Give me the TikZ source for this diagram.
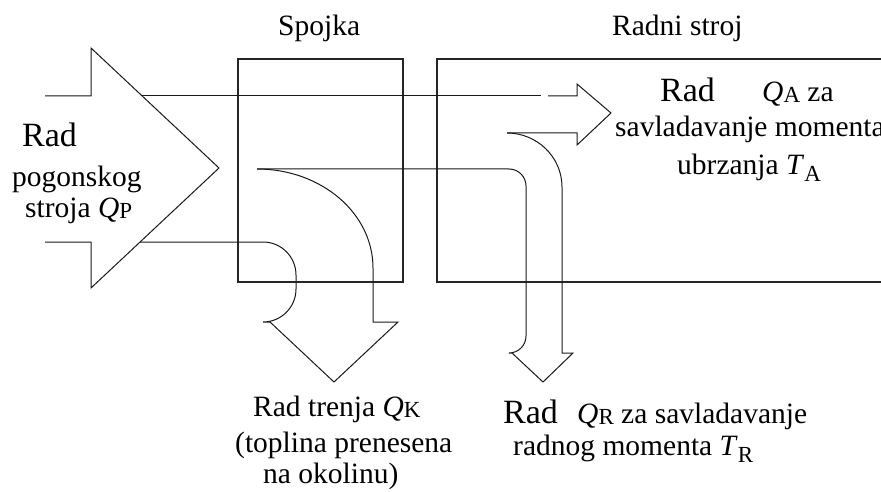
\documentclass[tikz,border=0pt]{standalone}
\usepackage{fontspec}
\setmainfont{Liberation Serif}
\usepackage{tikz}
\usetikzlibrary{positioning}
\newcommand{\subsz}{\fontsize{23}{23}\selectfont}
\newcommand{\Qsub}[1]{\textit{Q}\raisebox{-1pt}{\subsz #1}}
\newcommand{\Tsub}[1]{\textit{T}\raisebox{-7pt}{\subsz #1}}
\tikzset{
  machine/.style={draw, line width=1.8pt, black!85},
  flow/.style={line width=1pt, black!90},
  txt/.style={anchor=base west, inner sep=0pt, font=\fontsize{29.5}{36}\selectfont},
  big/.style={txt, font=\fontsize{34}{40}\selectfont},
}

\begin{document}
\begin{tikzpicture}[x=1pt, y=-1pt]
  \useasboundingbox (0,0) rectangle (881,492);
  \clip (0,0) rectangle (881,492);

  % Spojka and Radni stroj
  \draw[machine] (238,59) rectangle (403,282);
  \draw[machine] (437,59) rectangle (900,282);
  \node[txt] (spojka) at (278,36) {Spojka};
  \node[txt] (radni) at (612,36) {Radni stroj};

  % input arrow
  \draw[flow] (45,96) -- (91,96) -- (91,48) -- (219,168) -- (91,288) -- (91,242) -- (45,242);
  \node[big] (radP) at (22,147) {Rad};
  \node[txt] (pogP) at (12,186) {pogonskog};
  \node[txt] (strP) at (25,217) {stroja \Qsub{P}};

  % Q_A
  \draw[flow] (142,96) -- (541,96);
  \draw[flow] (548,96) -- (577,96) -- (577,84) -- (611,113) -- (577,145) -- (577,133) -- (507,133);
  \node[big] (radA) at (660,102) {Rad};
  \node[txt] (qA) at (762,102) {\Qsub{A} za};
  \node[txt] (savA) at (615,137) {savladavanje momenta};
  \node[txt] (ubrA) at (677,175) {ubrzanja \Tsub{A}};

  % Q_R
  \draw[flow, rounded corners=17pt] (257,169) -- (526,169) -- (526,353) [sharp corners]
    -- (512,353) -- (543,382) -- (573,353) -- (562,353) -- (562,187)
    .. controls (562,157) and (537,133) .. (507,133);
  \node[big] (radR) at (503,423) {Rad};
  \node[txt] (qR) at (577,423) {\Qsub{R} za savladavanje};
  \node[txt] (momR) at (513,455) {radnog momenta \Tsub{R}};

  % Q_K
  \draw[flow] (140,242) [rounded corners=33pt] -- (296,242) -- (296,322) [sharp corners]
    -- (270,322) -- (334,382) -- (398,322) -- (373,322) -- (373,268)
    .. controls (373,213) and (321,169) .. (257,169);
  \node[txt] (radK) at (253,416) {Rad trenja \Qsub{K}};
  \node[txt] (topK) at (235,452) {(toplina prenesena};
  \node[txt] (okoK) at (263,483) {na okolinu)};
\end{tikzpicture}
\end{document}
